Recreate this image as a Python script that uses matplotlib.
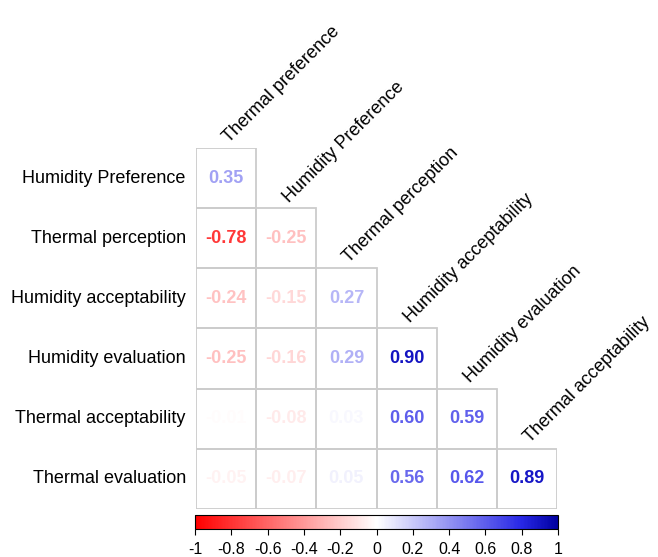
import numpy as np
import matplotlib
matplotlib.use("Agg")
import matplotlib.pyplot as plt
from matplotlib.colors import LinearSegmentedColormap, Normalize
from matplotlib.patches import Rectangle
from matplotlib.cm import ScalarMappable

plt.rcParams["font.family"] = ["Liberation Sans", "DejaVu Sans"]

row_labels = ["Humidity Preference", "Thermal perception", "Humidity acceptability",
              "Humidity evaluation", "Thermal acceptability", "Thermal evaluation"]
col_labels = ["Thermal preference", "Humidity Preference", "Thermal perception",
              "Humidity acceptability", "Humidity evaluation", "Thermal acceptability"]

# lower triangle of the correlation matrix, one list per row
corr = [
    [0.35],
    [-0.78, -0.25],
    [-0.24, -0.15, 0.27],
    [-0.25, -0.16, 0.29, 0.90],
    [-0.01, -0.08, 0.03, 0.60, 0.59],
    [-0.05, -0.07, 0.05, 0.56, 0.62, 0.89],
]
cbar_ticks = [-1, -0.8, -0.6, -0.4, -0.2, 0, 0.2, 0.4, 0.6, 0.8, 1]

cmap = LinearSegmentedColormap.from_list(
    "rwb", [(0.0, "#FF0000"), (0.5, "#FFFFFF"), (0.9, "#2828E6"), (1.0, "#0000A0")])
norm = Normalize(-1, 1)

W, H = 658, 557
fig = plt.figure(figsize=(W / 100, H / 100), dpi=100)
ax = fig.add_axes([196 / W, 1 - 509 / H, 361 / W, 361 / H])
n = len(row_labels)
ax.set_xlim(0, n)
ax.set_ylim(n, 0)
ax.axis("off")

for i, row in enumerate(corr):
    for j, v in enumerate(row):
        ax.add_patch(Rectangle((j, i), 1, 1, fill=False, edgecolor="#CCCCCC", lw=1.3))
        ax.text(j + 0.5, i + 0.5, f"{v:.2f}", ha="center", va="center",
                fontsize=13, fontweight="bold", color=cmap(norm(v)))
    ax.text(-0.17, i + 0.5, row_labels[i], ha="right", va="center", fontsize=13,
            clip_on=False)

# diagonal column labels sitting on top of each column
for j, lab in enumerate(col_labels):
    ax.text(j + 0.6, j - 0.04, lab, rotation=45, rotation_mode="anchor",
            ha="left", va="bottom", fontsize=13, clip_on=False)

cax = fig.add_axes([195 / W, 1 - 529 / H, 363 / W, 14 / H])
cb = fig.colorbar(ScalarMappable(norm=norm, cmap=cmap), cax=cax, orientation="horizontal")
cb.set_ticks(cbar_ticks)
cb.set_ticklabels([f"{t:g}" for t in cbar_ticks])
cb.outline.set_linewidth(0.8)
cax.tick_params(labelsize=11.5, length=4, width=0.8, pad=5)

fig.savefig("out.png", dpi=100)
